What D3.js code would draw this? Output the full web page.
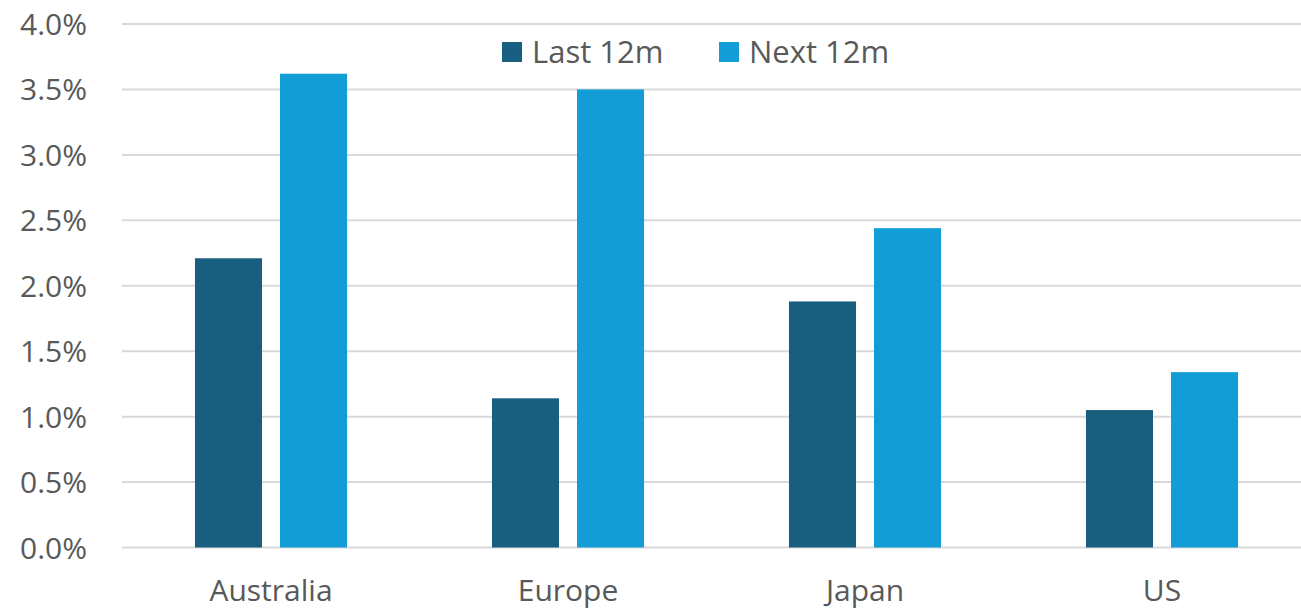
<!DOCTYPE html>
<html>
<head>
<meta charset="utf-8">
<script src="https://cdn.jsdelivr.net/npm/d3@7"></script>
<style>
  body { margin: 0; background: #fff; }
  svg text { font-family: "Open Sans", sans-serif; fill: #595959; }
</style>
</head>
<body>
<svg class="chart"></svg>
<script>
// data
let categories = ["Australia", "Europe", "Japan", "US"];
let seriesNames = ["Last 12m", "Next 12m"];
let last12m = [2.21, 1.14, 1.88, 1.05];
let next12m = [3.62, 3.50, 2.44, 1.34];
let yTicks = [0, 0.5, 1.0, 1.5, 2.0, 2.5, 3.0, 3.5, 4.0];

let svgWidth = 1301, svgHeight = 614;
let colors = ["#175e7f", "#129dd7"];

let svg = d3.select('.chart')
    .attr("width", svgWidth)
    .attr("height", svgHeight);

let y = d3.scaleLinear().domain([0, 4]).range([547.5, 24]);

let x0 = d3.scaleBand()
    .domain(categories)
    .range([122.5, 1310.5])
    .paddingInner(0.488)
    .paddingOuter(0.244);

let x1 = d3.scaleBand()
    .domain(seriesNames)
    .range([0, x0.bandwidth()])
    .paddingInner(0.212);

// gridlines
svg.append("g")
    .selectAll("line")
    .data(yTicks)
    .enter()
    .append("line")
    .attr("x1", 122)
    .attr("x2", svgWidth)
    .attr("y1", d => y(d))
    .attr("y2", d => y(d))
    .attr("stroke", "#d9d9d9")
    .attr("stroke-width", 2);

// y labels
let yAxis = d3.axisLeft(y).tickValues(yTicks).tickFormat(d => d.toFixed(1) + "%").tickSize(0).tickPadding(0);
let yg = svg.append("g").attr("transform", "translate(87,0)").call(yAxis);
yg.select(".domain").remove();
yg.selectAll("text")
    .style("font-size", "30px")
    .attr("dy", "0.35em");

// bars
let rows = categories.map((c, i) => ({ cat: c, values: [last12m[i], next12m[i]] }));

let groups = svg.selectAll(".grp")
    .data(rows)
    .enter()
    .append("g")
    .attr("transform", d => "translate(" + x0(d.cat) + ",0)");

groups.selectAll("rect")
    .data(d => d.values.map((v, j) => ({ s: seriesNames[j], v: v, j: j })))
    .enter()
    .append("rect")
    .attr("x", d => x1(d.s))
    .attr("width", x1.bandwidth())
    .attr("y", d => y(d.v))
    .attr("height", d => y(0) - y(d.v))
    .attr("fill", d => colors[d.j]);

// x labels (kept just inside the bottom edge)
let xAxis = d3.axisBottom(x0).tickSize(0).tickPadding(0);
let xg = svg.append("g").attr("transform", "translate(0,580)").call(xAxis);
xg.select(".domain").remove();
xg.selectAll("text")
    .style("font-size", "30px")
    .attr("dy", "0.71em")
    .attr("x", 0);

// legend
let legendX = [502, 719];
let legend = svg.append("g");
seriesNames.forEach((name, i) => {
    legend.append("rect")
        .attr("x", legendX[i])
        .attr("y", 42)
        .attr("width", 20)
        .attr("height", 20)
        .attr("fill", colors[i]);
    legend.append("text")
        .attr("x", legendX[i] + 30)
        .attr("y", 52)
        .attr("dy", "0.35em")
        .style("font-size", "31px")
        .text(name);
});
</script>
</body>
</html>
